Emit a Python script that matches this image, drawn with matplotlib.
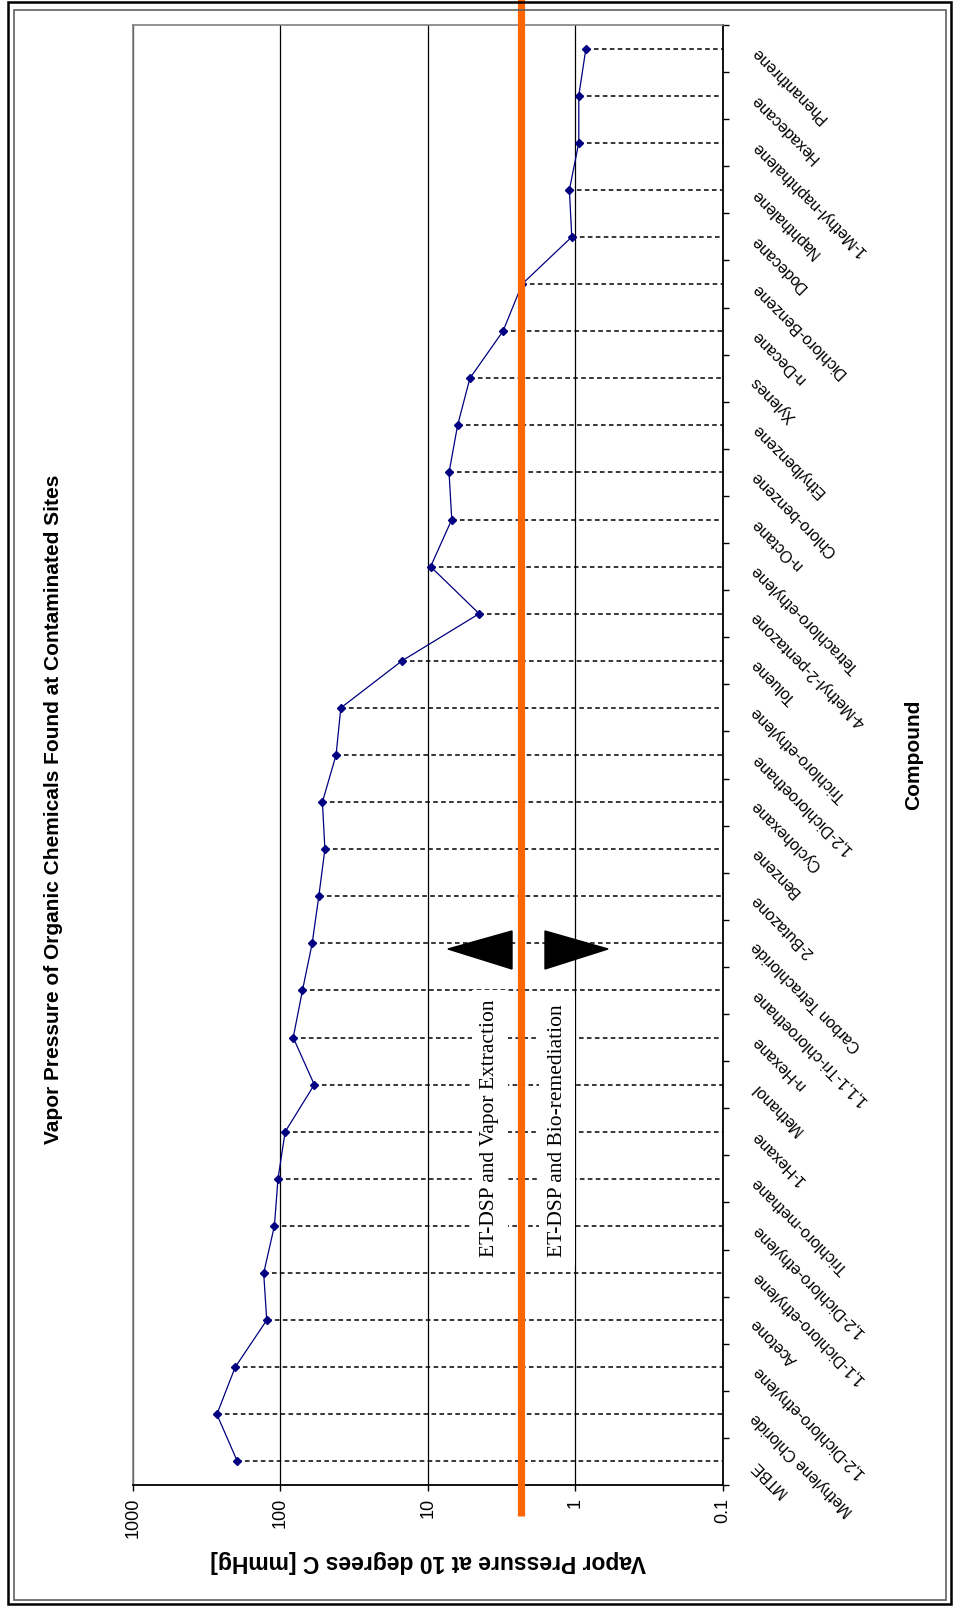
import matplotlib
matplotlib.use("Agg")
import matplotlib.pyplot as plt
from matplotlib.patches import Polygon, Rectangle
from matplotlib.ticker import FixedLocator, NullFormatter

plt.rcParams["font.family"] = ["Liberation Sans", "DejaVu Sans"]

# compounds, listed from the first category (bottom of the rotated chart) upward
compounds = [
    "MTBE", "Methylene Chloride", "1,2-Dichloro-ethylene", "Acetone",
    "1,1-Dichloro-ethylene", "1,2-Dichloro-ethylene", "Trichloro-methane",
    "1-Hexane", "Methanol", "n-Hexane", "1,1,1-Tri-chloroethane",
    "Carbon Tetrachloride", "2-Butazone", "Benzene", "Cyclohexane",
    "1,2-Dichloroethane", "Trichloro-ethylene", "Toluene",
    "4-Methyl-2-pentazone", "Tetrachloro-ethylene", "n-Octane",
    "Chloro-benzene", "Ethylbenzene", "Xylenes", "n-Decane",
    "Dichloro-Benzene", "Dodecane", "Naphthalene", "1-Methyl-naphthalene",
    "Hexadecane", "Phenanthrene",
]
# vapor pressure at 10 degrees C [mmHg]
pressure = [
    196, 270, 203, 124, 130, 110, 104, 93, 59, 82, 71, 61, 55, 50, 52,
    42, 39, 15, 4.5, 9.6, 6.9, 7.2, 6.3, 5.2, 3.1, 2.3, 1.06, 1.1,
    0.95, 0.95, 0.85,
]
threshold = 2.35  # boundary between the two treatment regimes

value_ticks = [1000, 100, 10, 1, 0.1]
value_tick_labels = ["1000", "100", "10", "1", "0.1"]

W, H = 954, 1608


def fx(px):
    return px / W


def fy(py):
    return 1 - py / H


fig = plt.figure(figsize=(W / 100, H / 100), dpi=100)
fig.patch.set_facecolor("white")

# chart frame (outer black line and inner gray one)
fig.patches.append(Rectangle((fx(8), fy(1605)), fx(951) - fx(8), fy(3) - fy(1605),
                             transform=fig.transFigure, fill=False,
                             edgecolor="black", lw=1.8, zorder=0))
fig.patches.append(Rectangle((fx(14), fy(1601)), fx(946) - fx(14), fy(11) - fy(1601),
                             transform=fig.transFigure, fill=False,
                             edgecolor="#606060", lw=1.2, zorder=0))

ax = fig.add_axes([fx(133), fy(1486), fx(723) - fx(133), fy(26) - fy(1486)])
ax.set_facecolor("white")

idx = list(range(len(compounds)))

ax.set_xscale("log")
ax.set_xlim(1000, 0.1)
ax.set_ylim(-0.5, len(compounds) - 0.5)

# drop lines from each point to the category axis
ax.hlines(idx, pressure, 0.1, colors="black", linestyles=(0, (3, 2.2)),
          lw=1.1, zorder=2)
ax.plot(pressure, idx, color="#000080", lw=0.9, marker="D", ms=4.5,
        markeredgecolor="#000080", zorder=3)

# threshold bar, running past the plot area like the drawn shape
ax.plot([threshold, threshold], [26 / 1460 + 1, -31 / 1460],
        transform=ax.get_xaxis_transform(), clip_on=False,
        color="#FF6600", lw=5.2, solid_capstyle="butt", zorder=6)

# value axis (bottom)
ax.xaxis.set_major_locator(FixedLocator(value_ticks))
ax.xaxis.set_minor_locator(FixedLocator([]))
ax.set_xticklabels(value_tick_labels, rotation=90, fontsize=13)
ax.tick_params(axis="x", which="major", direction="out", length=4.5, width=1,
               pad=4, colors="black")
ax.grid(True, axis="x", which="major", color="black", lw=0.9, zorder=1)

# category axis (right)
ax.yaxis.tick_right()
ax.yaxis.set_major_locator(FixedLocator([i - 0.5 for i in range(len(compounds) + 1)]))
ax.yaxis.set_major_formatter(NullFormatter())
ax.yaxis.set_minor_locator(FixedLocator(idx))
ax.set_yticklabels(compounds, minor=True, fontsize=11.5)
ax.tick_params(axis="y", which="major", direction="out", length=4, width=1,
               right=True, left=False)
ax.tick_params(axis="y", which="minor", length=0, pad=22, right=True, left=False)
for lab in ax.yaxis.get_minorticklabels():
    lab.set_rotation(135)
    lab.set_rotation_mode("anchor")
    lab.set_horizontalalignment("right")
    lab.set_verticalalignment("center")

for side in ("left", "top"):
    ax.spines[side].set_color("#808080")
    ax.spines[side].set_linewidth(1.2)
for side in ("right", "bottom"):
    ax.spines[side].set_color("black")
    ax.spines[side].set_linewidth(1.3)

# titles
fig.text(fx(54), fy(809), "Vapor Pressure of Organic Chemicals Found at Contaminated Sites",
         rotation=90, ha="center", va="center", fontsize=15, fontweight="bold")
fig.text(fx(914), fy(755), "Compound", rotation=90, ha="center", va="center",
         fontsize=15, fontweight="bold")
fig.text(fx(428), fy(1562), "Vapor Pressure at 10 degrees C [mmHg]", rotation=180,
         ha="center", va="center", fontsize=16.5, fontweight="bold")

# treatment annotations
serif = ["Liberation Serif", "DejaVu Serif"]
box = dict(boxstyle="square,pad=0.4", facecolor="white", edgecolor="none")
fig.text(fx(490), fy(1257), "ET-DSP and Vapor Extraction", rotation=90,
         ha="center", va="bottom", family=serif, fontsize=15.5, bbox=box, zorder=3)
fig.text(fx(557), fy(1257), "ET-DSP and Bio-remediation", rotation=90,
         ha="center", va="bottom", family=serif, fontsize=15.5, bbox=box, zorder=3)

left_arrow = [(448, 950), (512, 932), (512, 970)]
right_arrow = [(545, 932), (545, 970), (608, 950)]
for tri in (left_arrow, right_arrow):
    fig.patches.append(Polygon([(fx(x), fy(y)) for x, y in tri], closed=True,
                               transform=fig.transFigure, facecolor="black",
                               edgecolor="black", zorder=4))

fig.savefig("out.png", dpi=100, facecolor="white")
